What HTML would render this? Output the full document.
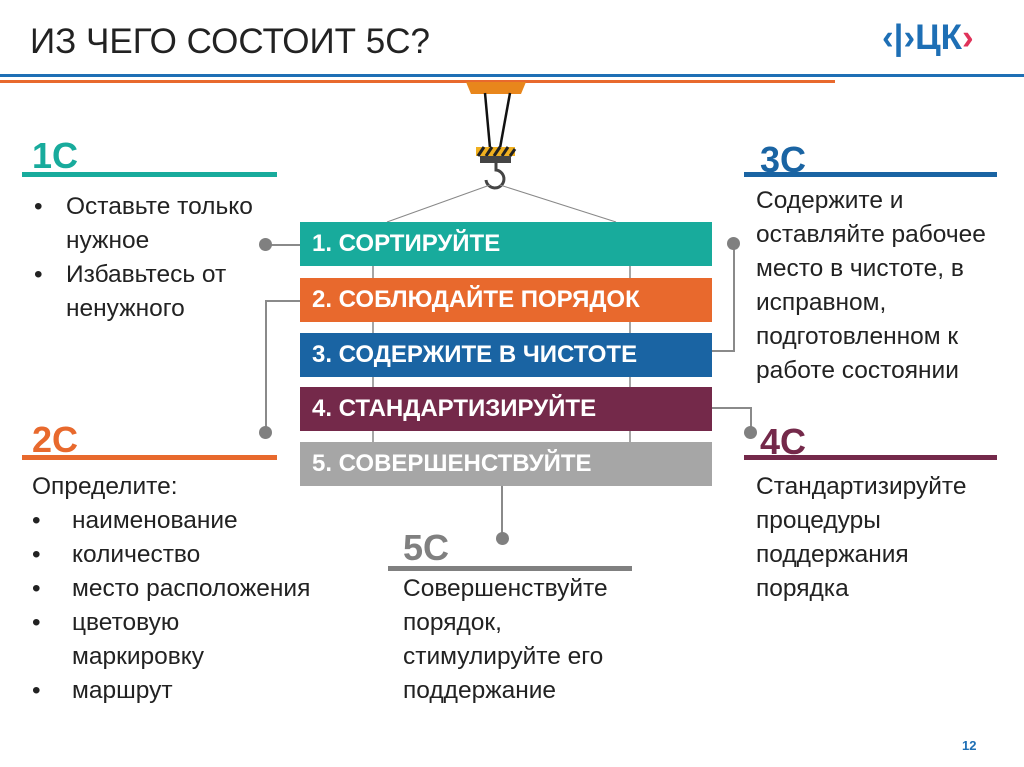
<!DOCTYPE html>
<html><head><meta charset="utf-8"><style>
body{margin:0;width:1024px;height:767px;background:#fff;position:relative;overflow:hidden;font-family:"Liberation Sans","DejaVu Sans",sans-serif;}
.a{position:absolute;}
.h{position:absolute;font-weight:bold;font-size:36px;line-height:36px;}
.t{position:absolute;font-size:24.5px;line-height:34px;color:#222;white-space:nowrap;}
.bar{position:absolute;left:300px;width:412px;height:44px;color:#fff;font-weight:bold;font-size:24px;line-height:44px;padding-left:12px;box-sizing:border-box;white-space:nowrap;}
.dot{position:absolute;width:13px;height:13px;border-radius:50%;background:#808080;}
.ln{position:absolute;background:#8a8a8a;}
</style></head><body>
<div class="a" style="left:30px;top:22px;font-size:35px;color:#222;">ИЗ ЧЕГО СОСТОИТ 5С?</div>
<div class="a" style="left:882px;top:18px;font-size:35px;font-weight:bold;color:#1e6fb5;">‹|›ЦК<span style="color:#e0335a">›</span></div>
<div class="a" style="left:0;top:74px;width:1024px;height:3px;background:#1e6fb5"></div>
<div class="a" style="left:0;top:80px;width:835px;height:3px;background:#e8692d"></div>
<svg class="a" style="left:0;top:0" width="1024" height="767">
<polygon points="466,82 526,82 521,94 471,94" fill="#e8861c"/>
<line x1="485" y1="93" x2="490" y2="148" stroke="#111" stroke-width="2.5"/>
<line x1="510" y1="93" x2="500" y2="148" stroke="#111" stroke-width="2.5"/>
<rect x="476" y="147" width="39" height="9" fill="#f0b020"/>
<path d="M478 156 l6 -9 M486 156 l6 -9 M494 156 l6 -9 M502 156 l6 -9 M510 156 l5 -7" stroke="#222" stroke-width="3"/>
<rect x="480" y="156" width="31" height="7" fill="#444"/>
<path d="M496 163 v7 a9 9 0 1 1 -10 10" fill="none" stroke="#444" stroke-width="3"/>
<line x1="490" y1="185" x2="387" y2="222" stroke="#888" stroke-width="1"/>
<line x1="500" y1="185" x2="616" y2="222" stroke="#888" stroke-width="1"/>
<line x1="373" y1="222" x2="373" y2="486" stroke="#888" stroke-width="1.5"/>
<line x1="630" y1="222" x2="630" y2="486" stroke="#888" stroke-width="1.5"/>
</svg>
<div class="bar" style="top:222px;background:#18ab9c">1. СОРТИРУЙТЕ</div>
<div class="bar" style="top:278px;background:#e8692d">2. СОБЛЮДАЙТЕ ПОРЯДОК</div>
<div class="bar" style="top:333px;background:#1a64a3">3. СОДЕРЖИТЕ В ЧИСТОТЕ</div>
<div class="bar" style="top:387px;background:#74294a">4. СТАНДАРТИЗИРУЙТЕ</div>
<div class="bar" style="top:442px;background:#a6a6a6">5. СОВЕРШЕНСТВУЙТЕ</div>
<div class="ln" style="left:266px;top:244px;width:34px;height:2px"></div><div class="dot" style="left:259px;top:238px"></div>
<div class="ln" style="left:265px;top:300px;width:35px;height:2px"></div><div class="ln" style="left:265px;top:300px;width:2px;height:132px"></div><div class="dot" style="left:259px;top:426px"></div>
<div class="ln" style="left:712px;top:350px;width:22px;height:2px"></div><div class="ln" style="left:733px;top:243px;width:2px;height:109px"></div><div class="dot" style="left:727px;top:237px"></div>
<div class="ln" style="left:712px;top:407px;width:40px;height:2px"></div><div class="ln" style="left:750px;top:407px;width:2px;height:25px"></div><div class="dot" style="left:744px;top:426px"></div>
<div class="ln" style="left:501px;top:486px;width:2px;height:52px"></div><div class="dot" style="left:496px;top:532px"></div>
<div class="h" style="left:32px;top:138px;color:#18ab9c">1С</div>
<div class="a" style="left:22px;top:172px;width:255px;height:5px;background:#18ab9c"></div>
<div class="t" style="left:34px;top:190px">•<span style="position:absolute;left:32px">Оставьте только</span><br><span style="position:absolute;left:32px">нужное</span><br>•<span style="position:absolute;left:32px">Избавьтесь от</span><br><span style="position:absolute;left:32px">ненужного</span></div>
<div class="h" style="left:32px;top:422px;color:#e8692d">2С</div>
<div class="a" style="left:22px;top:455px;width:255px;height:5px;background:#e8692d"></div>
<div class="t" style="left:32px;top:470px">Определите:<br>•<span style="position:absolute;left:40px">наименование</span><br>•<span style="position:absolute;left:40px">количество</span><br>•<span style="position:absolute;left:40px">место расположения</span><br>•<span style="position:absolute;left:40px">цветовую</span><br><span style="position:absolute;left:40px">маркировку</span><br>•<span style="position:absolute;left:40px">маршрут</span></div>
<div class="h" style="left:760px;top:142px;color:#1a64a3">3С</div>
<div class="a" style="left:744px;top:172px;width:253px;height:5px;background:#1a64a3"></div>
<div class="t" style="left:756px;top:184px">Содержите и<br>оставляйте рабочее<br>место в чистоте, в<br>исправном,<br>подготовленном к<br>работе состоянии</div>
<div class="h" style="left:760px;top:424px;color:#74294a">4С</div>
<div class="a" style="left:744px;top:455px;width:253px;height:5px;background:#74294a"></div>
<div class="t" style="left:756px;top:470px">Стандартизируйте<br>процедуры<br>поддержания<br>порядка</div>
<div class="h" style="left:403px;top:530px;color:#808080">5С</div>
<div class="a" style="left:388px;top:566px;width:244px;height:5px;background:#808080"></div>
<div class="t" style="left:403px;top:572px">Совершенствуйте<br>порядок,<br>стимулируйте его<br>поддержание</div>
<div class="a" style="left:962px;top:738px;font-size:13px;font-weight:bold;color:#1e6fb5">12</div>
</body></html>
